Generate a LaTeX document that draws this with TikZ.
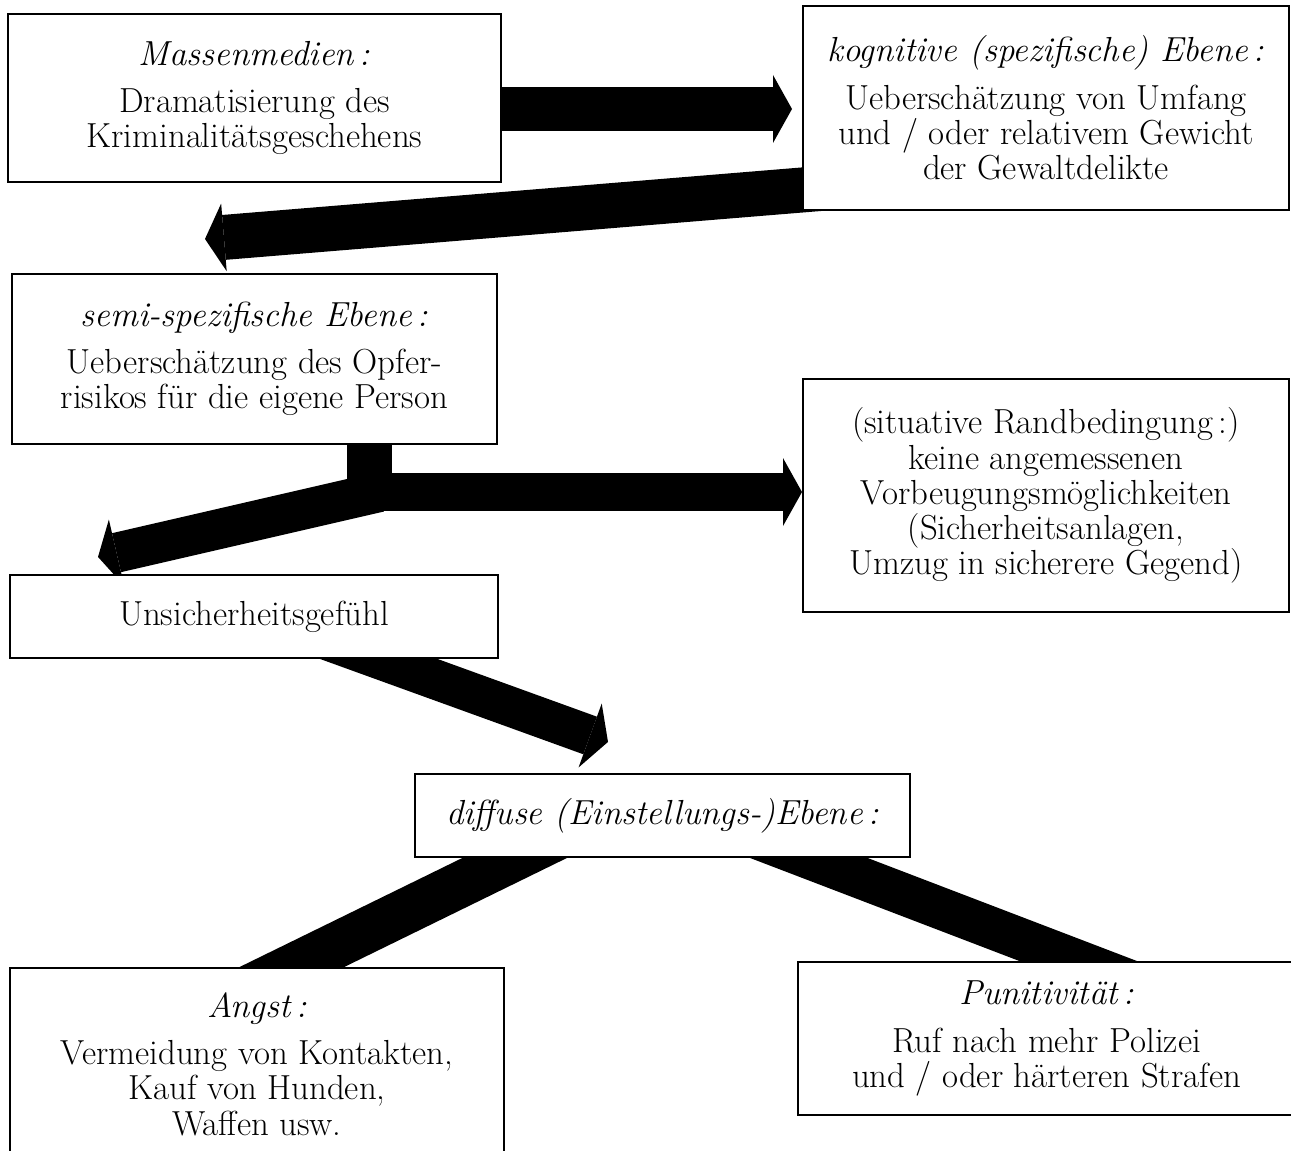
\documentclass[tikz,border=0pt]{standalone}
\usepackage{tikz}
\usetikzlibrary{calc}
\usetikzlibrary{arrows.meta,backgrounds}

\tikzset{
  box/.style={draw, line width=1.2pt, fill=white, inner sep=0pt, align=center,
    font=\fontsize{19.8}{20}\selectfont},
  fat/.style={line width=#1, -{Triangle[length=0.38cm, width=1.36cm, line width=0pt]}},
  bar/.style={line width=#1},
}

\begin{document}
\begin{tikzpicture}[x=0.02cm, y=-0.02cm]

\useasboundingbox (0,0) rectangle (1291,1151);
\clip (0,0) rectangle (1291,1151);

\node[box, minimum width=9.86cm, minimum height=3.36cm] (massen) at (254.5,98)
  {\textit{Massenmedien\,:}\\[7pt] Dramatisierung des\\ Kriminalitätsgeschehens};
\node[box, minimum width=9.72cm, minimum height=4.08cm] (kogn) at (1046,108)
  {\textit{kognitive (spezifische) Ebene\,:}\\[7pt] Ueberschätzung von Umfang\\ und / oder relativem Gewicht\\ der Gewaltdelikte};
\node[box, minimum width=9.7cm, minimum height=3.4cm] (semi) at (254.5,359)
  {\textit{semi-spezifische Ebene\,:}\\[7pt] Ueberschätzung des Opfer-\\ risikos für die eigene Person};
\node[box, minimum width=9.72cm, minimum height=4.66cm] (situ) at (1046,495.5)
  {(situative Randbedingung\,:)\\ keine angemessenen\\ Vorbeugungsmöglichkeiten\\ (Sicherheitsanlagen,\\ Umzug in sicherere Gegend)};
\node[box, minimum width=9.76cm, minimum height=1.66cm] (unsich) at (254,616.5)
  {Unsicherheitsgefühl};
\node[box, minimum width=9.9cm, minimum height=1.66cm] (diffuse) at (662.5,815.5)
  {\textit{diffuse (Einstellungs-)Ebene\,:}};
\node[box, minimum width=9.88cm, minimum height=3.84cm] (angst) at (257,1064)
  {\textit{Angst\,:}\\[7pt] Vermeidung von Kontakten,\\ Kauf von Hunden,\\ Waffen usw.};
\node[box, minimum width=9.94cm, minimum height=3.06cm] (punit) at (1046.5,1038.5)
  {\textit{Punitivität\,:}\\[7pt] Ruf nach mehr Polizei\\ und / oder härteren Strafen};

\coordinate (split) at ($(semi.south)+(115,47)$);

\begin{scope}[on background layer]
\draw[fat=0.88cm, shorten <=-1cm] ($(massen.east)+(0,11)$) -- ($(kogn.west)+(-10,1)$);
\draw[fat=0.9cm, shorten <=-2cm] ($(kogn.west)+(0,82)$) -- ($(semi.north)+(-49.5,-34)$);
\draw[bar=0.9cm, shorten <=-1cm] ($(semi.south)+(115,0)$) -- (split);
\draw[fat=0.76cm] ($(split)+(-19,0)$) -- (situ.west |- split);
\draw[fat=0.8cm] ($(split)+(10,0)$) -- ($(unsich.north)+(-156,-17)$);
\draw[fat=0.8cm, shorten <=-2cm] ($(unsich.south)+(125,0)$) -- ($(diffuse.north)+(-54.5,-31)$);
\draw[bar=0.92cm, shorten <=-2cm, shorten >=-2cm] ($(diffuse.south)+(-148,0)$) -- ($(angst.north)+(35,0)$);
\draw[bar=0.84cm, shorten <=-2cm, shorten >=-2cm] ($(diffuse.south)+(146.5,0)$) -- ($(punit.north)+(31.5,0)$);
\end{scope}

\end{tikzpicture}
\end{document}
